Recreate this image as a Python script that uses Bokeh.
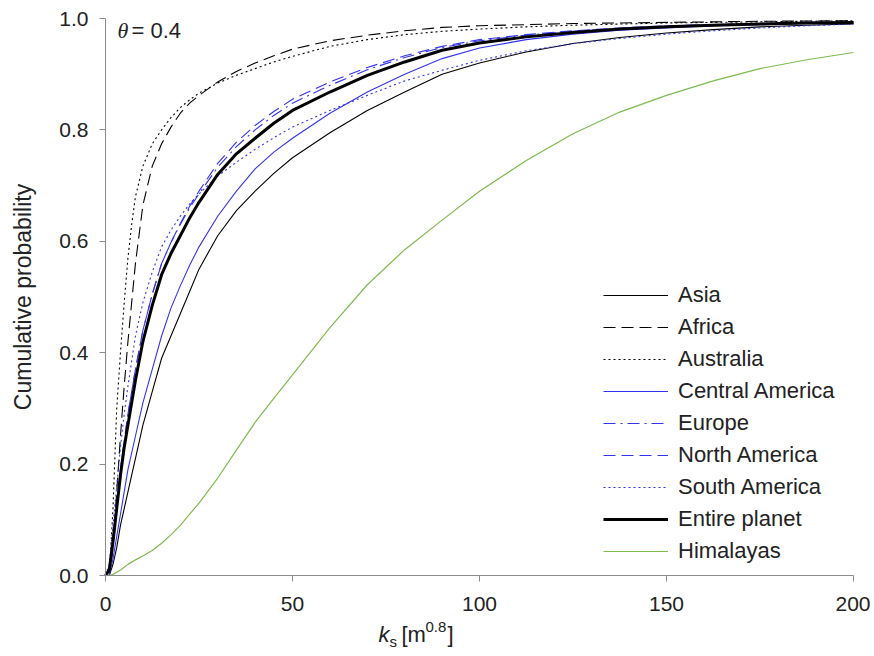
from bokeh.plotting import figure
from bokeh.models import Label, Range1d, NumeralTickFormatter, FixedTicker
from bokeh.embed import file_html
from bokeh.resources import INLINE

# ---- data ----
k_s = [0, 1, 2, 3, 4, 5, 6, 7, 8, 10, 12.5, 15, 17.5, 20, 22.5, 25, 30, 35, 40, 45, 50,
       60, 70, 80, 90, 100, 112.5, 125, 137.5, 150, 162.5, 175, 187.5, 200]
asia = [0, 0, 0.02, 0.05, 0.09, 0.12, 0.15, 0.18, 0.21, 0.27, 0.33, 0.39, 0.43, 0.47, 0.51, 0.55,
        0.61, 0.655, 0.69, 0.722, 0.75, 0.795, 0.835, 0.868, 0.9, 0.92, 0.94, 0.955, 0.966, 0.974,
        0.98, 0.985, 0.988, 0.99]
africa = [0, 0, 0.05, 0.15, 0.25, 0.34, 0.42, 0.49, 0.56, 0.665, 0.735, 0.775, 0.805, 0.83, 0.848,
          0.862, 0.886, 0.905, 0.92, 0.933, 0.945, 0.96, 0.97, 0.978, 0.984, 0.987, 0.989, 0.991,
          0.992, 0.993, 0.994, 0.995, 0.9955, 0.996]
australia = [0, 0, 0.12, 0.3, 0.4, 0.49, 0.57, 0.63, 0.68, 0.735, 0.775, 0.8, 0.822, 0.84, 0.854,
             0.866, 0.884, 0.898, 0.91, 0.922, 0.932, 0.95, 0.962, 0.971, 0.977, 0.981, 0.985,
             0.988, 0.99, 0.992, 0.993, 0.994, 0.995, 0.996]
central_america = [0, 0, 0.03, 0.07, 0.11, 0.15, 0.19, 0.22, 0.25, 0.31, 0.37, 0.43, 0.48, 0.52,
                   0.557, 0.59, 0.645, 0.69, 0.73, 0.76, 0.785, 0.83, 0.868, 0.9, 0.928, 0.947,
                   0.962, 0.972, 0.979, 0.983, 0.987, 0.989, 0.991, 0.992]
europe = [0, 0.01, 0.07, 0.13, 0.19, 0.24, 0.29, 0.33, 0.37, 0.44, 0.505, 0.56, 0.598, 0.63, 0.66,
          0.685, 0.733, 0.77, 0.8, 0.826, 0.848, 0.88, 0.908, 0.93, 0.948, 0.96, 0.97, 0.977,
          0.982, 0.986, 0.989, 0.991, 0.993, 0.994]
north_america = [0, 0.01, 0.07, 0.13, 0.19, 0.24, 0.29, 0.33, 0.37, 0.44, 0.505, 0.56, 0.598, 0.632,
                 0.663, 0.69, 0.74, 0.778, 0.808, 0.833, 0.855, 0.886, 0.912, 0.933, 0.95, 0.962,
                 0.971, 0.978, 0.983, 0.987, 0.989, 0.991, 0.993, 0.994]
south_america = [0, 0.02, 0.09, 0.16, 0.23, 0.29, 0.34, 0.385, 0.43, 0.49, 0.545, 0.59, 0.62, 0.645,
                 0.667, 0.685, 0.717, 0.742, 0.765, 0.786, 0.805, 0.835, 0.862, 0.888, 0.907, 0.925,
                 0.942, 0.955, 0.964, 0.972, 0.978, 0.983, 0.987, 0.99]
entire_planet = [0, 0.01, 0.06, 0.12, 0.18, 0.23, 0.27, 0.31, 0.35, 0.42, 0.485, 0.54, 0.578, 0.61,
                 0.642, 0.67, 0.72, 0.757, 0.785, 0.812, 0.835, 0.868, 0.898, 0.922, 0.943, 0.956,
                 0.967, 0.975, 0.981, 0.985, 0.988, 0.99, 0.992, 0.993]
himalayas = [0, 0, 0.002, 0.006, 0.01, 0.015, 0.02, 0.024, 0.028, 0.035, 0.045, 0.058, 0.073, 0.09,
             0.11, 0.13, 0.175, 0.225, 0.275, 0.318, 0.36, 0.445, 0.522, 0.585, 0.638, 0.69, 0.745,
             0.793, 0.832, 0.862, 0.888, 0.91, 0.926, 0.939]

x_ticks = [0, 50, 100, 150, 200]
y_ticks = [0.0, 0.2, 0.4, 0.6, 0.8, 1.0]

FONT = "Liberation Sans"
TXT = "#222222"
AX = "#8c8c8c"
BLUE = "#3333f0"
GREEN = "#7dbb4f"

# canvas geometry: the plotting frame spans the whole canvas; axes are pinned at 0
W, H = 870, 652
X0_PX, X200_PX, Y1_PX, Y0_PX = 105, 853, 18, 575
ppx = (X200_PX - X0_PX) / 200.0
ppy = (Y0_PX - Y1_PX) / 1.0

p = figure(width=W, height=H, output_backend="svg", toolbar_location=None,
           x_range=Range1d(-X0_PX / ppx, (W - X0_PX) / ppx),
           y_range=Range1d(-(H - Y0_PX) / ppy, 1 + Y1_PX / ppy),
           min_border_left=0, min_border_right=0, min_border_top=0, min_border_bottom=0)


def ypx(py):
    return (Y0_PX - py) / ppy


def xpx(px):
    return (px - X0_PX) / ppx


series = [
    ("Asia", asia, "black", 1.1, "solid"),
    ("Africa", africa, "black", 1.1, "12 6"),
    ("Australia", australia, "black", 1.1, "2 3"),
    ("Central America", central_america, BLUE, 1.1, "solid"),
    ("Europe", europe, BLUE, 1.1, "12 5 2 5"),
    ("North America", north_america, BLUE, 1.1, "12 6"),
    ("South America", south_america, BLUE, 1.1, "2 3"),
    ("Entire planet", entire_planet, "black", 3, "solid"),
    ("Himalayas", himalayas, GREEN, 1.2, "solid"),
]
for name, ys, col, w, dash in series:
    p.line(k_s, ys, line_color=col, line_width=w, line_dash=dash, legend_label=name)

for ax in (p.xaxis, p.yaxis):
    ax.axis_line_color = AX
    ax.major_tick_line_color = AX
    ax.minor_tick_line_color = None
    ax.major_tick_out = 6
    ax.major_tick_in = 0
    ax.major_label_text_font = FONT
    ax.major_label_text_font_size = "21px"
    ax.major_label_text_color = TXT
    ax.axis_label_text_font = FONT
    ax.axis_label_text_font_size = "23px"
    ax.axis_label_text_font_style = "normal"
    ax.axis_label_text_color = TXT

p.xaxis.ticker = FixedTicker(ticks=x_ticks)
p.yaxis.ticker = FixedTicker(ticks=y_ticks)
p.yaxis.formatter = NumeralTickFormatter(format="0.0")
p.yaxis.major_label_standoff = 11
p.xaxis.major_label_standoff = 15
p.xaxis.fixed_location = 0
p.yaxis.fixed_location = 0
p.xaxis.bounds = (0, 200)
p.yaxis.bounds = (0, 1)
p.yaxis.axis_label = "Cumulative probability"
p.yaxis.axis_label_standoff = 20

p.xgrid.visible = False
p.ygrid.visible = False
p.outline_line_color = None

# x-axis label: k_s [m^0.8]
lab = dict(text_color=TXT, text_baseline="middle", text_font=FONT)
p.add_layout(Label(x=xpx(378), y=ypx(634), text="k", text_font_style="italic",
                   text_font_size="22px", **lab))
p.add_layout(Label(x=xpx(389), y=ypx(641), text="s", text_font_size="15px", **lab))
p.add_layout(Label(x=xpx(401), y=ypx(634), text="[m", text_font_size="22px", **lab))
p.add_layout(Label(x=xpx(425), y=ypx(626), text="0.8", text_font_size="15px", **lab))
p.add_layout(Label(x=xpx(447), y=ypx(634), text="]", text_font_size="22px", **lab))

# theta annotation
p.add_layout(Label(x=xpx(117), y=ypx(30), text="θ", text_font="Liberation Serif",
                   text_font_style="italic", text_font_size="22px", text_color=TXT,
                   text_baseline="middle"))
p.add_layout(Label(x=xpx(131), y=ypx(30), text="= 0.4", text_font_size="22px", **lab))

lg = p.legend[0]
lg.location = (603, H - 566)
lg.glyph_width = 65
lg.glyph_height = 30
lg.label_height = 30
lg.spacing = 2
lg.padding = 0
lg.margin = 0
lg.label_standoff = 10
lg.border_line_alpha = 0
lg.background_fill_alpha = 0
lg.label_text_font = FONT
lg.label_text_font_size = "22px"
lg.label_text_color = TXT

open("out.html", "w").write(file_html(p, INLINE))
